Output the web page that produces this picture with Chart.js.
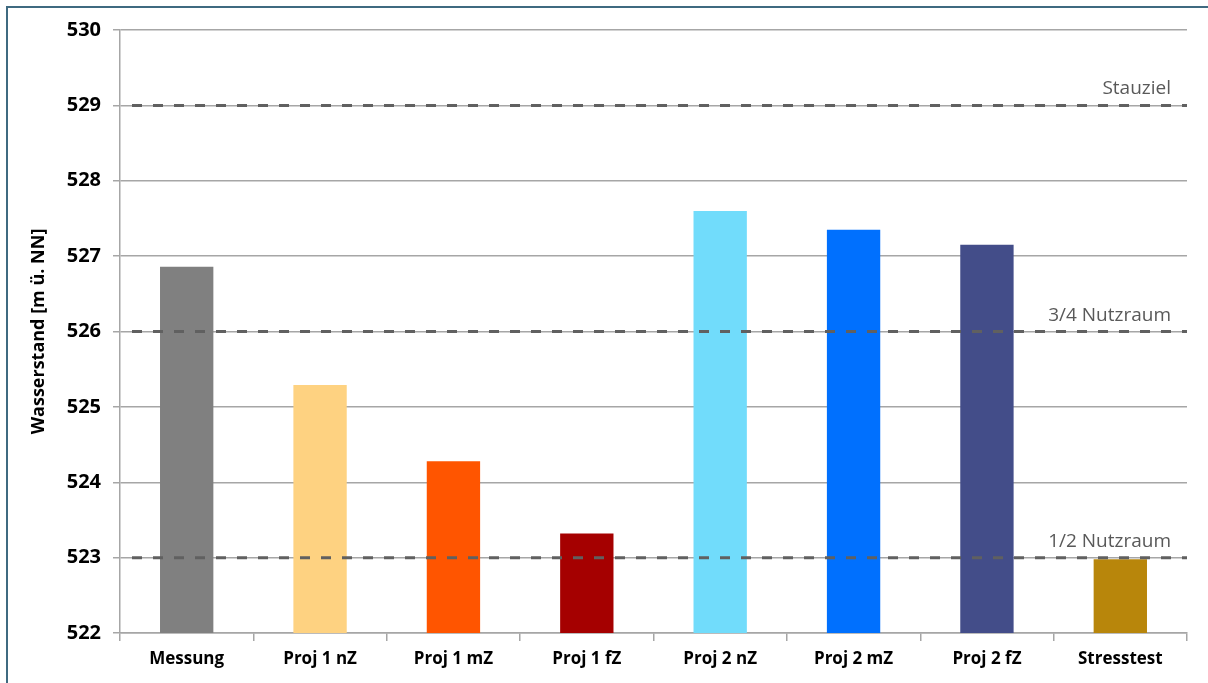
<!DOCTYPE html>
<html>
<head>
<meta charset="utf-8">
<script src="https://cdn.jsdelivr.net/npm/chart.js@4/dist/chart.umd.min.js"></script>
<style>
  html, body { margin: 0; padding: 0; background: #ffffff; overflow: hidden; }
  #frame {
    position: absolute; left: 6px; top: 6px; width: 1220px; height: 700px;
    border-left: 2px solid #3f6a80; border-top: 2px solid #3f6a80;
    box-sizing: border-box;
  }
  #mainChart { position: absolute; left: 0; top: 0; }
</style>
</head>
<body>
<div id="frame"></div>
<canvas id="mainChart" width="1208" height="683"></canvas>
<script>
// categories and bar values (m ü. NN)
const categories = ["Messung", "Proj 1 nZ", "Proj 1 mZ", "Proj 1 fZ", "Proj 2 nZ", "Proj 2 mZ", "Proj 2 fZ", "Stresstest"]
const levels = [526.86, 525.29, 524.28, 523.32, 527.60, 527.35, 527.15, 522.98]
const barColors = ["#808080", "#fed281", "#ff5500", "#a50000", "#71dcfb", "#0070fe", "#434d89", "#b8860b"]

// reference lines
const refValues = [529, 526, 523]
const refLabels = ["Stauziel", "3/4 Nutzraum", "1/2 Nutzraum"]

const yMin = 522
const yMax = 530
const yStep = 1

const fontFamily = "'Open Sans', Lato, sans-serif"
const gridColor = "#a6a6a6"

// dashed lines with labels, drawn on top of the bars
const refLinesPlugin = {
    id: 'refLines',
    afterDatasetsDraw(chart) {
        const ctx = chart.ctx
        const y = chart.scales.y
        const area = chart.chartArea
        ctx.save()
        refValues.forEach((v, i) => {
            const py = y.getPixelForValue(v)
            ctx.beginPath()
            ctx.setLineDash([10, 11])
            ctx.lineWidth = 3
            ctx.strokeStyle = "#606060"
            ctx.moveTo(area.left + 12, py)
            ctx.lineTo(area.right, py)
            ctx.stroke()
            ctx.setLineDash([])
            ctx.font = "19px " + fontFamily
            ctx.fillStyle = "#595959"
            ctx.textAlign = "right"
            ctx.textBaseline = "alphabetic"
            ctx.fillText(refLabels[i], area.right - 16, py - 11)
        })
        ctx.restore()
    }
}

const ctx = document.getElementById('mainChart').getContext('2d')
window.myChart = new Chart(ctx, {
    type: 'bar',
    data: {
        labels: categories,
        datasets: [{
            data: levels,
            backgroundColor: barColors,
            borderWidth: 0,
            barPercentage: 0.4,
            categoryPercentage: 1.0
        }]
    },
    options: {
        responsive: false,
        animation: false,
        layout: { padding: { left: 28, right: 21, top: 30, bottom: 0 } },
        plugins: {
            legend: { display: false },
            tooltip: { enabled: false }
        },
        scales: {
            x: {
                afterFit: (scale) => { scale.height = 50 },
                grid: {
                    offset: true,
                    drawOnChartArea: false,
                    color: gridColor,
                    lineWidth: 1.5,
                    tickLength: 8
                },
                border: { color: gridColor, width: 1.5 },
                ticks: {
                    color: "#000000",
                    padding: 8,
                    font: { family: fontFamily, size: 17, weight: 'bold' }
                }
            },
            y: {
                min: yMin,
                max: yMax,
                afterFit: (scale) => { scale.width = 120 - 28 },
                ticks: {
                    stepSize: yStep,
                    color: "#000000",
                    padding: 12,
                    font: { family: fontFamily, size: 20, weight: 'bold' }
                },
                grid: {
                    color: gridColor,
                    lineWidth: 1.5,
                    tickLength: 7
                },
                border: { color: gridColor, width: 1.5 },
                title: {
                    display: true,
                    text: "Wasserstand [m ü. NN]",
                    color: "#000000",
                    padding: 0,
                    font: { family: fontFamily, size: 18, weight: 'bold' }
                }
            }
        }
    },
    plugins: [refLinesPlugin]
})
</script>
</body>
</html>
